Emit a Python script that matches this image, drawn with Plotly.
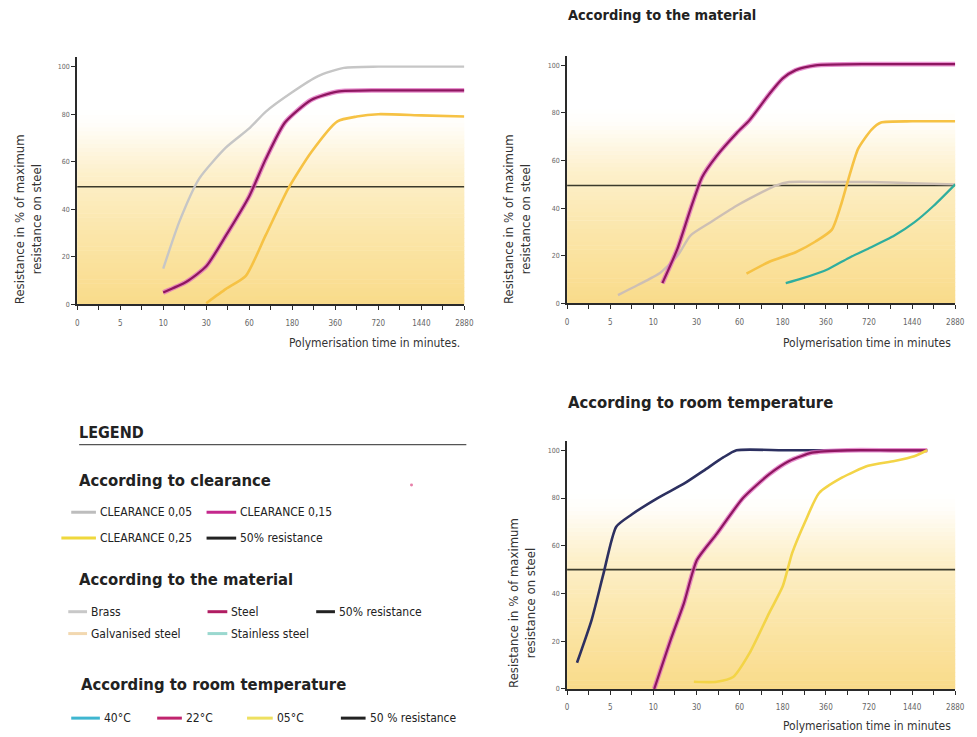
import plotly.graph_objects as go

W, H = 977, 737
OFF = 8  # page body margin in the browser

# ---------------- data ----------------
cats = ["0", "5", "10", "30", "60", "180", "360", "720", "1440", "2880"]
y_ticks = [0, 20, 40, 60, 80, 100]

# positions along the (evenly spaced) time categories, as category index
c005_x = [2.0, 2.38, 2.84, 3.46, 4.0, 4.38, 4.98, 5.6, 6.2, 7.0, 8.0, 9.0]
c005_y = [15, 35, 53, 66, 74, 81, 89, 96, 99.5, 100, 100, 100]
c015_x = [2.0, 2.54, 3.0, 3.46, 4.0, 4.38, 4.83, 5.44, 6.05, 7.0, 8.0, 9.0]
c015_y = [5, 9.5, 16, 29, 45.5, 61, 76.5, 86, 89.5, 90, 90, 90]
c025_x = [3.0, 3.46, 3.92, 4.38, 4.9, 5.44, 6.05, 6.5, 7.0, 8.0, 9.0]
c025_y = [0.5, 6.5, 12, 29, 48.5, 64, 77, 79, 80, 79.5, 79]

brass_x = [1.18, 1.64, 2.17, 2.56, 2.86, 3.32, 3.93, 4.23, 4.84, 5.15, 6.0, 7.0, 8.0, 9.0]
brass_y = [3.5, 7.7, 13, 20, 28.5, 34, 41, 44, 49.5, 51, 51, 51, 50.5, 50]
steel_x = [2.21, 2.56, 2.86, 3.13, 3.47, 3.93, 4.23, 4.69, 5.0, 5.3, 5.76, 7.0, 8.0, 9.0]
steel_y = [8.5, 23, 39.5, 53, 62, 71.5, 77, 88, 94.5, 98, 100, 100.5, 100.5, 100.5]
galv_x = [4.16, 4.69, 5.3, 5.76, 6.14, 6.37, 6.52, 6.75, 7.06, 7.28, 8.0, 9.0]
galv_y = [12.5, 17.5, 21.5, 26, 31, 42.5, 52, 65, 73, 76, 76.5, 76.5]
stain_x = [5.07, 5.45, 6.06, 6.52, 6.98, 7.59, 8.05, 8.5, 9.0]
stain_y = [8.5, 10.5, 14.5, 19, 23, 28.5, 34, 41, 50]

t40_x = [0.23, 0.57, 0.84, 1.14, 1.49, 2.1, 2.71, 3.17, 3.62, 3.93, 5.0, 6.0, 7.0, 8.0, 8.35]
t40_y = [11, 29, 48, 68, 73, 80, 86, 91.5, 97, 100, 100, 100, 100, 100, 100]
t22_x = [2.02, 2.4, 2.71, 3.01, 3.47, 4.08, 4.69, 5.15, 5.68, 6.5, 7.5, 8.35]
t22_y = [0, 20.5, 36, 54, 65, 80, 90, 95.5, 99, 100, 100, 100]
t05_x = [2.94, 3.47, 3.85, 4.23, 4.69, 5.0, 5.22, 5.53, 5.84, 6.37, 6.98, 7.59, 8.05, 8.35]
t05_y = [3, 3, 5, 15, 32, 43, 57, 70.5, 82, 88.5, 93.5, 95.5, 97.5, 100]

threshold = [49.5, 49.5, 50]

# ---------------- style ----------------
GRAY = "#c6c6c6"
MAG_CORE = "#8e1660"
MAG_HALO = "#e16cbf"
YEL1 = "#f6c244"
YEL3 = "#f3d447"
TEAL = "#2fae9e"
NAVY = "#2d3060"
BRASS = "#cdbfb5"
THR = "#3b3a2c"
AXC = "#2a2a2a"

NARROW = "Liberation Sans Narrow, DejaVu Sans Condensed, sans-serif"
HEAVY = "DejaVu Sans Condensed, DejaVu Sans, sans-serif"


def px(x):
    return (x - OFF) / W


def py(y):
    return 1 - (y - OFF) / H


fig = go.Figure()

panels = [
    # (xaxis, yaxis, x domain px, y px of top, y px of bottom) in screen pixels
    ("x", "y", (76, 468), 57.4, 306.0),
    ("x2", "y2", (572, 965), 56.1, 305.0),
    ("x3", "y3", (572, 965), 443.1, 692.7),
]


def add_line(ax, xs, ys, color, width, halo=None):
    xa, ya = ax
    if halo:
        fig.add_trace(go.Scatter(x=xs, y=ys, xaxis=xa, yaxis=ya, mode="lines",
                                 line=dict(color=halo, width=width + 2.5, shape="spline", smoothing=0.6),
                                 opacity=0.75, showlegend=False, hoverinfo="skip"))
    fig.add_trace(go.Scatter(x=xs, y=ys, xaxis=xa, yaxis=ya, mode="lines",
                             line=dict(color=color, width=width, shape="spline", smoothing=0.6),
                             showlegend=False))


# threshold lines
for i, (xa, ya, _, _, _) in enumerate(panels):
    fig.add_trace(go.Scatter(x=[0, len(cats) - 1], y=[threshold[i], threshold[i]], xaxis=xa, yaxis=ya,
                             mode="lines", line=dict(color=THR, width=1.6), showlegend=False))

# panel 1: clearance
add_line(("x", "y"), c005_x, c005_y, GRAY, 2.4)
add_line(("x", "y"), c015_x, c015_y, MAG_CORE, 2.2, halo=MAG_HALO)
add_line(("x", "y"), c025_x, c025_y, YEL1, 2.6)

# panel 2: material
add_line(("x2", "y2"), brass_x, brass_y, BRASS, 2.4)
add_line(("x2", "y2"), steel_x, steel_y, MAG_CORE, 2.2, halo=MAG_HALO)
add_line(("x2", "y2"), galv_x, galv_y, YEL1, 2.6)
add_line(("x2", "y2"), stain_x, stain_y, TEAL, 2.2)

# panel 3: temperature
add_line(("x3", "y3"), t40_x, t40_y, NAVY, 2.6)
add_line(("x3", "y3"), t22_x, t22_y, MAG_CORE, 2.2, halo=MAG_HALO)
add_line(("x3", "y3"), t05_x, t05_y, YEL3, 2.6)

layout = dict(width=W, height=H, margin=dict(l=0, r=0, t=0, b=0),
              paper_bgcolor="white", plot_bgcolor="white", showlegend=False)

shapes = []
# background gradient (white at top fading into pale yellow)
stops = [(0.0, (249, 219, 138)), (0.29, (251, 230, 170)), (0.53, (253, 240, 203)),
         (0.62, (254, 246, 224)), (0.72, (255, 253, 248)), (0.78, (255, 255, 255)), (1.0, (255, 255, 255))]


def grad(f):
    for (a, ca), (b, cb) in zip(stops[:-1], stops[1:]):
        if a <= f <= b:
            t = (f - a) / (b - a) if b > a else 0
            return "rgb(%d,%d,%d)" % tuple(round(ca[k] + (cb[k] - ca[k]) * t) for k in range(3))
    return "white"


N = 60
for i, (xa, ya, (x0, x1), ytop, ybot) in enumerate(panels):
    sfx = "" if i == 0 else str(i + 1)
    layout["xaxis" + sfx] = dict(
        domain=[px(x0), px(x1)], range=[0, len(cats) - 1], anchor="y" + sfx,
        tickmode="array", tickvals=list(range(len(cats))), ticktext=cats,
        ticks="outside", ticklen=4, tickwidth=1.4, tickcolor=AXC,
        minor=dict(tickvals=[k + 0.5 for k in range(len(cats) - 1)], ticks="outside", ticklen=4,
                   tickwidth=1.2, tickcolor=AXC),
        showline=True, linecolor=AXC, linewidth=1.8, showgrid=False, zeroline=False,
        tickfont=dict(family=NARROW, size=8, color="#666"), ticklabelstandoff=6, fixedrange=True)
    layout["yaxis" + sfx] = dict(
        domain=[py(ybot), py(ytop)], range=[0, 104], anchor="x" + sfx,
        tickmode="array", tickvals=y_ticks, ticks="outside", ticklen=4, tickwidth=1.4, tickcolor=AXC,
        showline=True, linecolor=AXC, linewidth=1.8, showgrid=False, zeroline=False,
        tickfont=dict(family=NARROW, size=7, color="#666"), fixedrange=True)
    for k in range(N):
        f0, f1 = k / N, (k + 1) / N
        col = grad((f0 + f1) / 2)
        if col == "rgb(255,255,255)":
            continue
        shapes.append(dict(type="rect", xref="x" + sfx + " domain", yref="y" + sfx + " domain",
                           x0=0, x1=1, y0=f0, y1=f1 + 0.002, fillcolor=col, line=dict(width=0),
                           layer="below"))

annotations = []


def text(x, y, s, size, family=NARROW, color="#222", xanchor="left", yanchor="middle", angle=0, bold=False):
    annotations.append(dict(x=px(x), y=py(y), xref="paper", yref="paper", text=("<b>%s</b>" % s) if bold else s,
                            showarrow=False, xanchor=xanchor, yanchor=yanchor, textangle=angle,
                            font=dict(family=family, size=size, color=color)))


YT = "Resistance in % of maximum<br>resistance on steel"
text(27, 308, YT, 13, color="#333", xanchor="center", yanchor="bottom", angle=-90)
text(522, 308, YT, 13, color="#333", xanchor="center", yanchor="bottom", angle=-90)
text(527, 694, YT, 13, color="#333", xanchor="center", yanchor="bottom", angle=-90)

text(466, 345, "Polymerisation time in minutes.", 12, color="#333", xanchor="right")
text(963, 345, "Polymerisation time in minutes", 12, color="#333", xanchor="right")
text(963, 730, "Polymerisation time in minutes", 12, color="#333", xanchor="right")

text(571, 15, "According to the material", 14.5, family=HEAVY, bold=True)
text(571, 405, "According to room temperature", 16.5, family=HEAVY, bold=True)

# ---------------- legend block ----------------
text(76, 435, "LEGEND", 16, family=HEAVY, bold=True)
shapes.append(dict(type="line", xref="paper", yref="paper", x0=px(78), x1=px(470), y0=py(447), y1=py(447),
                   line=dict(color="#555", width=1.2)))

text(76, 483, "According to clearance", 16.5, family=HEAVY, bold=True)
text(76, 583, "According to the material", 16.5, family=HEAVY, bold=True)
text(78, 688, "According to room temperature", 16.5, family=HEAVY, bold=True)

legend_items = [
    # (swatch x0, x1, y, color, label)
    (70, 95, 515, "#bdbdbd", "CLEARANCE 0,05"),
    (207, 237, 515, "#c4288c", "CLEARANCE 0,15"),
    (60, 95, 541, "#efd83c", "CLEARANCE 0,25"),
    (207, 237, 541, "#222222", "50% resistance"),
    (67, 86, 615, "#c8c8c8", "Brass"),
    (208, 228, 615, "#b01d62", "Steel"),
    (318, 337, 615, "#222222", "50% resistance"),
    (67, 86, 637, "#f2d8b0", "Galvanised steel"),
    (208, 228, 637, "#9ad8cf", "Stainless steel"),
    (70, 99, 722, "#3fb6d0", "40°C"),
    (157, 182, 722, "#c0246e", "22°C"),
    (248, 274, 722, "#eee060", "05°C"),
    (343, 368, 722, "#222222", "50 % resistance"),
]
for x0, x1, y, c, lab in legend_items:
    shapes.append(dict(type="line", xref="paper", yref="paper", x0=px(x0), x1=px(x1), y0=py(y), y1=py(y),
                       line=dict(color=c, width=3)))
    text(x1 + 2, y, lab, 12, color="#222")

# small stray pink dot
shapes.append(dict(type="circle", xref="paper", yref="paper", x0=px(413), x1=px(416), y0=py(489), y1=py(486),
                   fillcolor="#e77fa8", line=dict(width=0)))

layout["shapes"] = shapes
layout["annotations"] = annotations
fig.update_layout(**layout)
fig.write_html("out.html")
